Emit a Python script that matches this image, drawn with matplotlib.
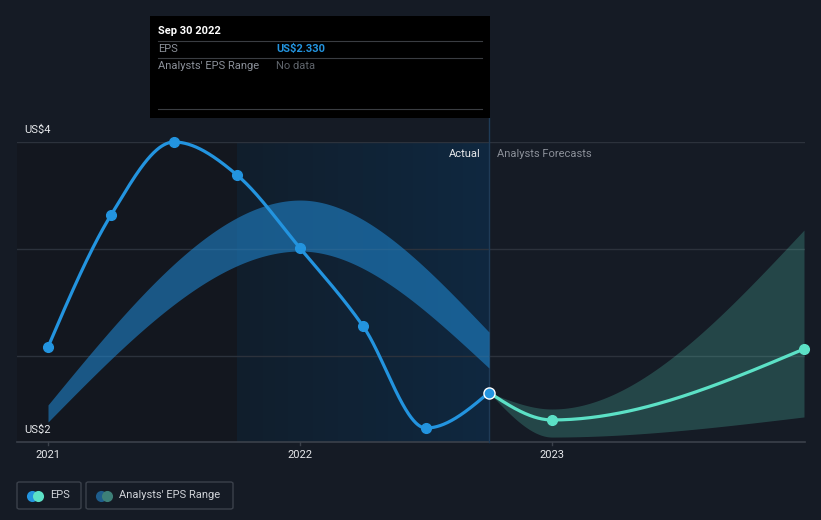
import numpy as np
import matplotlib
matplotlib.use("Agg")
import matplotlib.pyplot as plt
from matplotlib.patches import Rectangle, FancyBboxPatch
from matplotlib.lines import Line2D
from matplotlib.colors import LinearSegmentedColormap

plt.rcParams['font.family'] = ['Roboto', 'DejaVu Sans']

# ---------------- data ----------------
eps_dates = [2021.0, 2021.25, 2021.5, 2021.75, 2022.0, 2022.25, 2022.5, 2022.75]
eps_values = [2.633, 3.513, 4.0, 3.78, 3.293, 2.773, 2.093, 2.330]

past_range_dates = [2021.0, 2022.0, 2022.75]
past_range_high = [2.247, 3.613, 2.733]
past_range_low = [2.133, 3.273, 2.493]

fc_dates = [2022.75, 2023.0, 2024.0]
fc_eps = [2.330, 2.147, 2.620]
fc_high = [2.330, 2.220, 3.413]
fc_low = [2.330, 2.033, 2.167]

year_ticks = [2021, 2022, 2023]
year_labels = ["2021", "2022", "2023"]
y_labels = ["US$2", "US$4"]

# ---------------- helpers ----------------
W, H = 821, 520


def monotone(x, y, n=80):
    x = np.asarray(x, float)
    y = np.asarray(y, float)
    h = np.diff(x)
    s = np.diff(y) / h
    m = len(x)
    t = np.zeros(m)
    if m == 2:
        t[:] = s[0]
    else:
        for i in range(1, m - 1):
            p = (s[i - 1] * h[i] + s[i] * h[i - 1]) / (h[i - 1] + h[i])
            t[i] = (np.sign(s[i - 1]) + np.sign(s[i])) * min(abs(s[i - 1]), abs(s[i]), 0.5 * abs(p))
        t[0] = (3 * s[0] - t[1]) / 2
        t[-1] = (3 * s[-1] - t[-2]) / 2
    xs, ys = [], []
    for i in range(m - 1):
        u = np.linspace(0, 1, n, endpoint=(i == m - 2))
        h00 = 2 * u**3 - 3 * u**2 + 1
        h10 = u**3 - 2 * u**2 + u
        h01 = -2 * u**3 + 3 * u**2
        h11 = u**3 - u**2
        xs.append(x[i] + u * h[i])
        ys.append(h00 * y[i] + h10 * h[i] * t[i] + h01 * y[i + 1] + h11 * h[i] * t[i + 1])
    return np.concatenate(xs), np.concatenate(ys)


def fx(px):
    return px / W


def fy(py):
    return 1 - py / H


BG = "#151b25"
fig = plt.figure(figsize=(W / 100, H / 100), dpi=100, facecolor=BG)

ax_l, ax_r, ax_t, ax_b = 17, 805, 142, 442
ax = fig.add_axes([fx(ax_l), fy(ax_b), (ax_r - ax_l) / W, (ax_b - ax_t) / H])
ax.set_facecolor(BG)
x0 = 2021.0 - 31 / 252
x1 = 2021.0 + 757 / 252
for sp in ax.spines.values():
    sp.set_visible(False)
ax.set_xticks([])
ax.set_yticks([])

# background regions
ax.axvspan(x0, 2021.75, color="#13171f", zorder=0, lw=0)
grad = np.linspace(0, 1, 512).reshape(1, -1)
cmap = LinearSegmentedColormap.from_list("hl", ["#111e2c", "#0f2840"])
ax.imshow(grad, extent=[2021.75, 2022.75, 2.0, 4.0], aspect="auto", cmap=cmap,
          zorder=0.5, interpolation="bilinear")
ax.set_xlim(x0, x1)
ax.set_ylim(2.0, 4.0)

# grid lines
grid_frac = [1.0, 1 - 107 / 300, 1 - 214 / 300]
for g in grid_frac:
    ax.axhline(2.0 + 2.0 * g, color="#2c323c", lw=1, zorder=1)
ax.axhline(2.0, color="#3b414b", lw=1.2, zorder=1, clip_on=False)
for yt in year_ticks:
    ax.plot([yt, yt], [2.0, 1.98], color="#3b414b", lw=1, clip_on=False, zorder=1)

# vertical divider
ax.plot([2022.75, 2022.75], [2.0, 2.0 + (442 - 118) / 150], color="#1f3b57", lw=1,
        clip_on=False, zorder=1.5)

# past analyst band
bx, bh = monotone(past_range_dates, past_range_high)
_, bl = monotone(past_range_dates, past_range_low)
ax.fill_between(bx, bl, bh, color="#2087d0", alpha=0.58, lw=0, zorder=2)

# forecast band
fxx, fh = monotone(fc_dates, fc_high)
_, fl = monotone(fc_dates, fc_low)
ax.fill_between(fxx, fl, fh, color="#5ce1c6", alpha=0.22, lw=0, zorder=2)

# EPS lines
ex, ey = monotone(eps_dates, eps_values)
ax.plot(ex, ey, color="#2394df", lw=2.3, zorder=3, solid_capstyle="round", clip_on=False)
ax.plot(eps_dates[:-1], eps_values[:-1], "o", color="#2394df", ms=7, mec="#2394df",
        zorder=4, clip_on=False)

cx, cy = monotone(fc_dates, fc_eps)
ax.plot(cx, cy, color="#5ce1c6", lw=2.3, zorder=3, clip_on=False)
ax.plot(fc_dates[1:], fc_eps[1:], "o", color="#5ce1c6", ms=7, mec="#5ce1c6", zorder=4, clip_on=False)
ax.plot([eps_dates[-1]], [eps_values[-1]], "o", color="#2394df", ms=8, mec="white", mew=1.0,
        zorder=5, clip_on=False)

# axis labels
for yt, lab in zip(year_ticks, year_labels):
    fig.text(fx(48 + (yt - 2021) * 252), fy(455), lab, color="#e6e8eb", fontsize=8,
             ha="center", va="center")
fig.text(fx(24), fy(430), y_labels[0], color="#e6e8eb", fontsize=8, ha="left", va="center")
fig.text(fx(24), fy(130), y_labels[1], color="#e6e8eb", fontsize=8, ha="left", va="center")

fig.text(fx(481), fy(154), "Actual", color="#e6e8eb", fontsize=8, ha="right", va="center")
fig.text(fx(497), fy(154), "Analysts Forecasts", color="#8b9099", fontsize=8, ha="left", va="center")

# tooltip
fig.add_artist(Rectangle((fx(150), fy(118)), (490 - 150) / W, (118 - 16) / H,
                         transform=fig.transFigure, facecolor="#000000", edgecolor="none", zorder=10))
for ly in [41, 58, 109]:
    fig.add_artist(Line2D([fx(158), fx(482)], [fy(ly), fy(ly)], transform=fig.transFigure,
                          color="#3a3d42", lw=0.8, zorder=11))
fig.text(fx(158), fy(31), "Sep 30 2022", color="#ffffff", fontsize=8, fontweight="bold",
         ha="left", va="center", zorder=12)
fig.text(fx(158), fy(49), "EPS", color="#8b9099", fontsize=8, ha="left", va="center", zorder=12)
fig.text(fx(276), fy(49), "US$2.330", color="#2394df", fontsize=8, fontweight="bold",
         ha="left", va="center", zorder=12)
fig.text(fx(158), fy(66), "Analysts' EPS Range", color="#8b9099", fontsize=8, ha="left",
         va="center", zorder=12)
fig.text(fx(276), fy(66), "No data", color="#5f646b", fontsize=8, ha="left", va="center", zorder=12)


# legend
def legend_box(xl, xr, label, c1, c2):
    fig.add_artist(FancyBboxPatch((fx(xl), fy(509)), (xr - xl) / W, (509 - 482) / H,
                                  boxstyle="round,pad=0,rounding_size=0.003",
                                  transform=fig.transFigure, facecolor="none",
                                  edgecolor="#3b414b", lw=1))
    fig.add_artist(Line2D([fx(xl + 15)], [fy(495.5)], marker="o", ms=8, color=c1, mec="none",
                          transform=fig.transFigure))
    fig.add_artist(Line2D([fx(xl + 21)], [fy(495.5)], marker="o", ms=8, color=c2, mec="none",
                          transform=fig.transFigure))
    fig.text(fx(xl + 33), fy(495.5), label, color="#d0d3d8", fontsize=8, ha="left", va="center")


legend_box(17, 81, "EPS", "#2394df", "#5ce1c6")
legend_box(86, 233, "Analysts' EPS Range", "#1e5d8c", "#3d8078")

fig.savefig("out.png", dpi=100, facecolor=BG)
